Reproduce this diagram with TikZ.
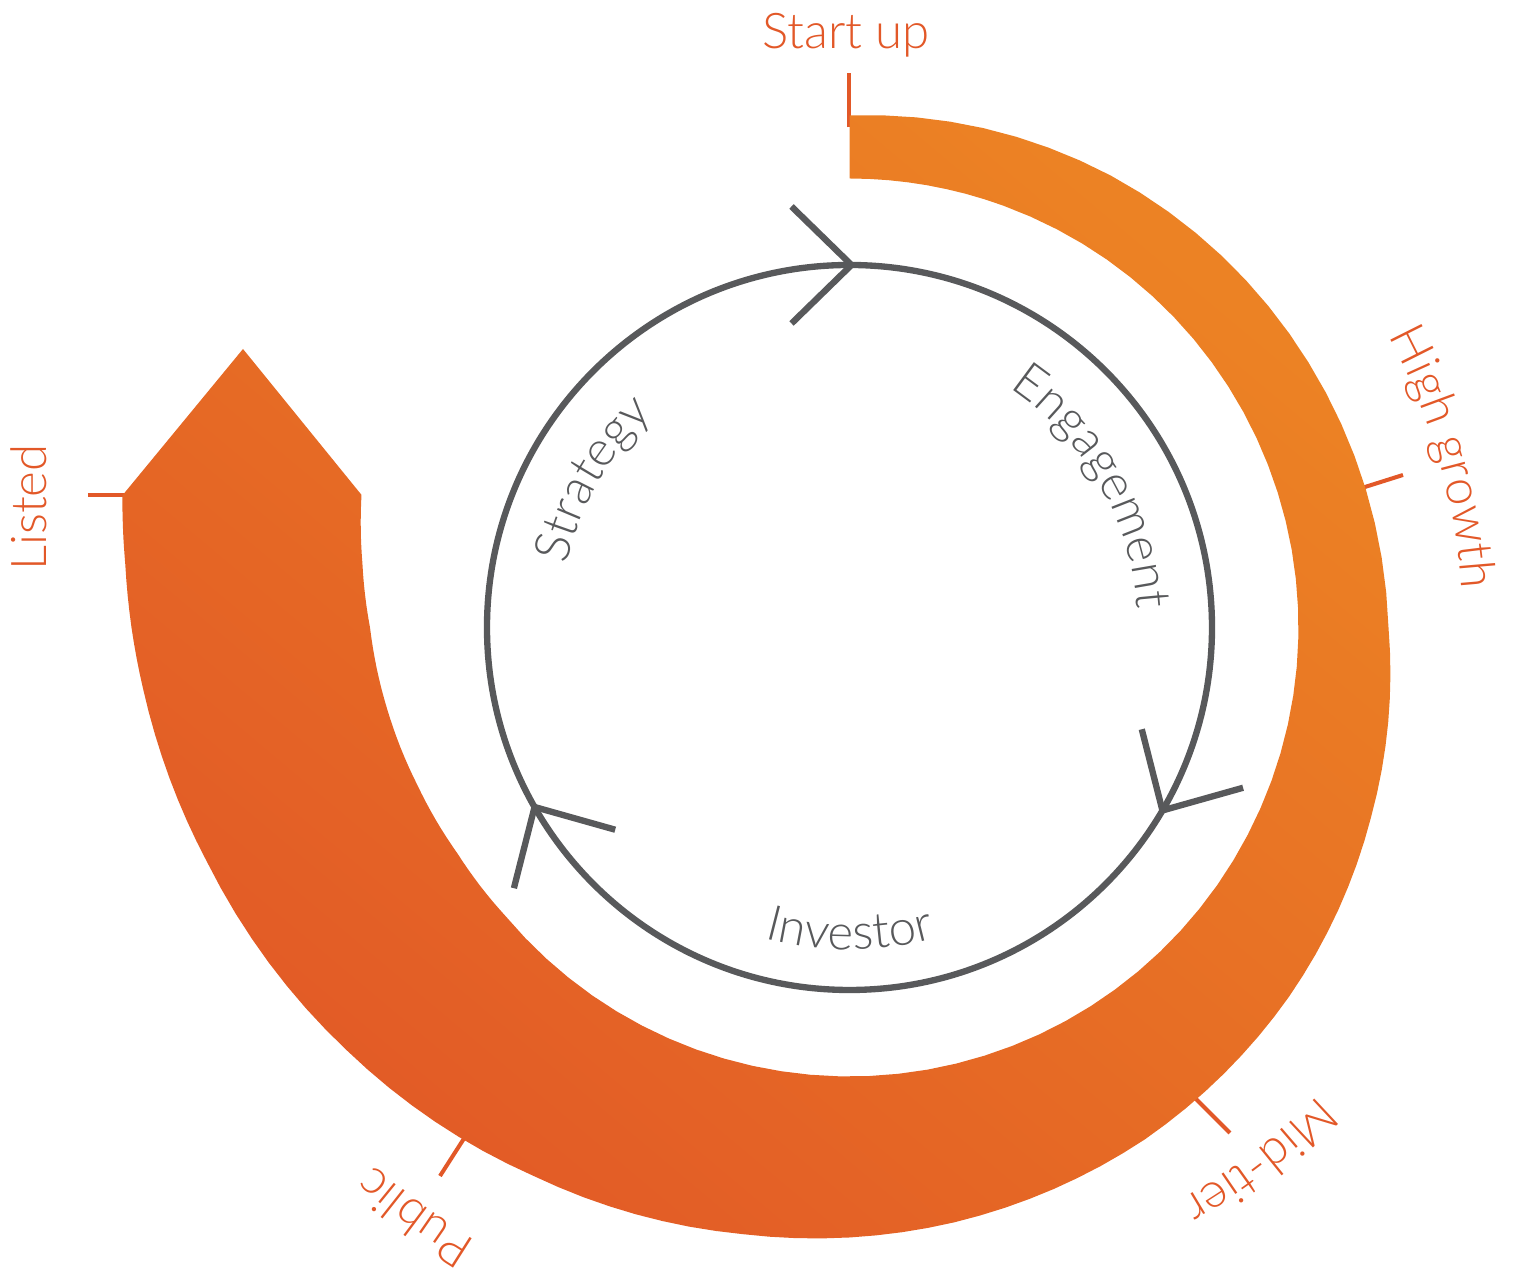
\documentclass[tikz,border=0pt]{standalone}
\usepackage{fontspec}
\newfontfamily\lblfam{Lato Light}
\usetikzlibrary{decorations.text}
\definecolor{bandlight}{RGB}{236,130,36}
\definecolor{banddark}{RGB}{226,90,38}
\definecolor{txtorange}{RGB}{226,88,40}
\definecolor{cgray}{RGB}{88,89,91}
\newcommand\lblfont{\lblfam\fontsize{14pt}{16pt}\selectfont}
\begin{document}
\begin{tikzpicture}[x=0.01cm, y=0.01cm,
  band/.style={top color=bandlight, bottom color=banddark, shading angle=-40},
  tickline/.style={draw=txtorange, line width=1.14pt},
  grayline/.style={draw=cgray, line width=1.8pt},
  olabel/.style={text=txtorange, font=\lblfont, inner sep=0pt},
  otext/.style={decorate, decoration={text along path, text align=center, text color=txtorange, text={|\lblfont|#1}}},
  gtext/.style={decorate, decoration={text along path, text align=center, text color=cgray, text={|\lblfont|#1}}}
]
\useasboundingbox (-849.5,-649.5) rectangle (677.5,627.5);

% tick marks (drawn first, band covers their inner ends)
\coordinate (t1a) at (-0.5,500); \coordinate (t1b) at (-0.5,554.5);
\coordinate (t2a) at (506,137.5); \coordinate (t2b) at (553.5,152.5);
\coordinate (t3a) at (340,-465); \coordinate (t3b) at (380.5,-505.5);
\coordinate (t4a) at (-381,-504); \coordinate (t4b) at (-409.5,-548.5);
\coordinate (t5a) at (-761.5,132.5); \coordinate (t5b) at (-715,132.5);
\foreach \i in {1,...,5} { \draw[tickline] (t\i a) -- (t\i b); }

% spiral band with arrow head (polar radius interpolated between measured stations)
\coordinate (tip) at (-606.5,278.5);
\shade[band] (90:512)
  \foreach \ta/\tb/\ra/\rb in {90/60/512/522, 60/30/522/530, 30/0/530/539, 0/-20/539/555,
      -20/-40/555/574, -40/-60/574/591, -60/-80/591/604, -80/-100/604/616,
      -100/-120/616/633, -120/-140/633/657, -140/-160/657/684, -160/-175/684/709,
      -175/-185/709/727, -185/-190.3/727/739}
  { -- plot[variable=\s, domain=0:1, samples=9] ({\ta+(\tb-\ta)*\s}:{\ra+(\rb-\ra)*\s}) }
  -- (tip)
  \foreach \ta/\tb/\ra/\rb in {-195.2/-187.5/505.7/491.3, -187.5/-180/491.3/479.5,
      -180/-170/479.5/469.5, -170/-160/469.5/460, -160/-150/460/452.5, -150/-140/452.5/449,
      -140/-110/449/449, -110/-80/449/449, -80/-50/449/449, -50/-20/449/449,
      -20/10/449/449, 10/40/449/449, 40/70/449/449, 70/90/449/449}
  { -- plot[variable=\s, domain=0:1, samples=9] ({\ta+(\tb-\ta)*\s}:{\ra+(\rb-\ra)*\s}) }
  -- cycle;

% gray cycle
\draw[grayline] (0,0) circle[radius=362.5];
\foreach \a in {90,-30,-150} {
  \draw[grayline, rotate=\a-90] (-58,421) -- (2,362.5) -- (-58,304);
}

% orange stage labels
\node[olabel, anchor=base] (startup) at (-3.5,578.5) {Start up};
\node[olabel, anchor=base, rotate=90] (listed) at (-802.5,120) {Listed};
\path[otext=High growth] (46:613) arc[start angle=46, end angle=-14, radius=613];
\path[otext=Mid-tier] (-22.4:662) arc[start angle=-22.4, end angle=-82.4, radius=662];
\path[otext=Public] (-96.4:718) arc[start angle=-96.4, end angle=-156.4, radius=718];

% gray cycle labels
\path[gtext=Strategy] (200:290) arc[start angle=200, end angle=100, radius=290];
\path[gtext=Engagement] (80:288) arc[start angle=80, end angle=-20, radius=288];
\path[gtext=Investor] (-140:322) arc[start angle=-140, end angle=-40, radius=322];
\end{tikzpicture}
\end{document}
